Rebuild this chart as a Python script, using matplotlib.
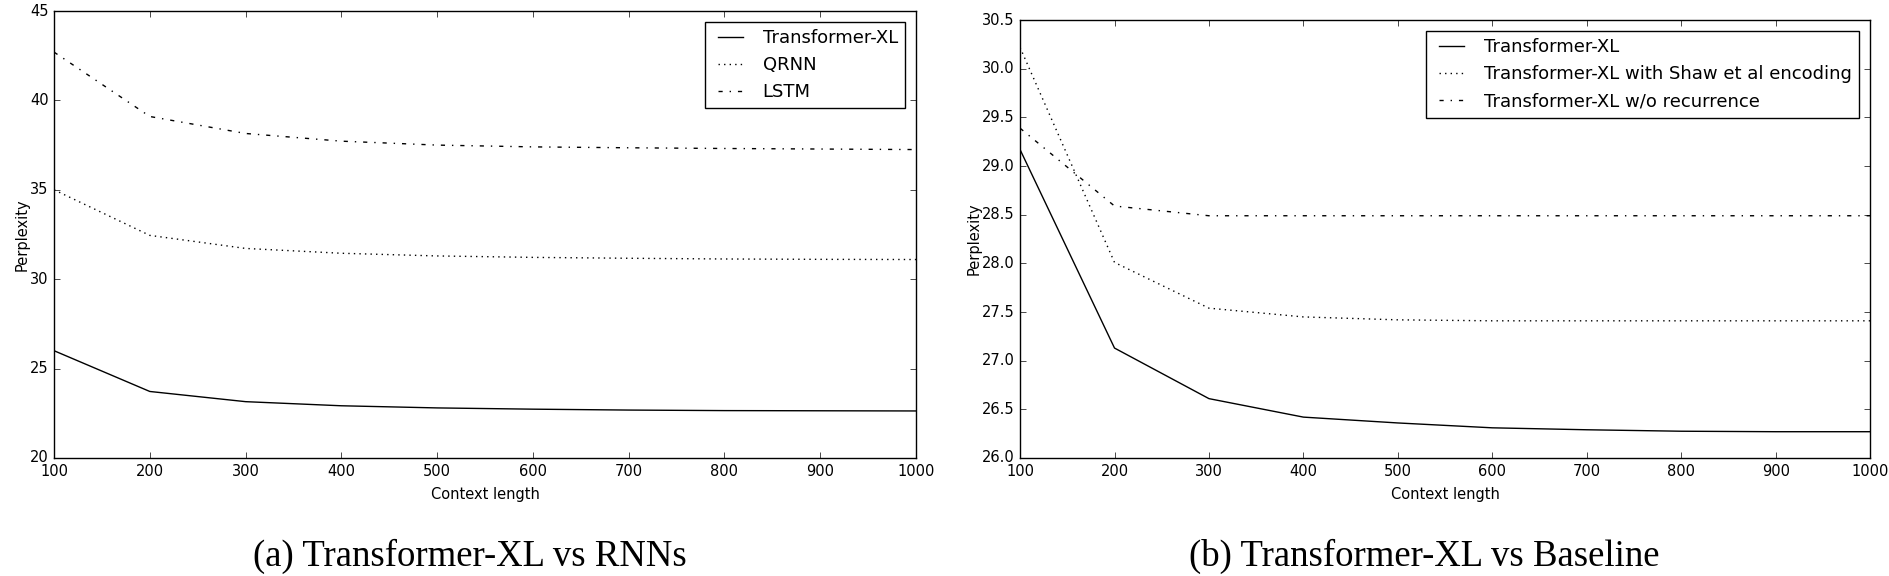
import matplotlib
matplotlib.use('Agg')
import matplotlib.pyplot as plt
from matplotlib.ticker import FormatStrFormatter

# context lengths shared by both panels
context = [100, 200, 300, 400, 500, 600, 700, 800, 900, 1000]

# (a) Transformer-XL vs RNNs
txl_a = [26.0, 23.72, 23.15, 22.92, 22.8, 22.73, 22.68, 22.65, 22.64, 22.63]
qrnn = [35.0, 32.45, 31.72, 31.45, 31.3, 31.22, 31.17, 31.13, 31.11, 31.1]
lstm = [42.7, 39.1, 38.15, 37.72, 37.5, 37.4, 37.35, 37.31, 37.28, 37.25]

# (b) Transformer-XL vs Baseline
txl_b = [29.17, 27.13, 26.61, 26.42, 26.36, 26.31, 26.29, 26.275, 26.27, 26.27]
shaw = [30.22, 28.01, 27.54, 27.45, 27.42, 27.41, 27.41, 27.41, 27.41, 27.41]
norec = [29.39, 28.59, 28.49, 28.49, 28.49, 28.49, 28.49, 28.49, 28.49, 28.49]

plt.style.use('classic')
plt.rcParams['font.family'] = ['DejaVu Sans']
plt.rcParams['figure.facecolor'] = 'white'
plt.rcParams['savefig.facecolor'] = 'white'
plt.rcParams['xtick.labelsize'] = 10.5
plt.rcParams['ytick.labelsize'] = 10.5
plt.rcParams['axes.labelsize'] = 10.5

fig = plt.figure(figsize=(18.89, 5.76), dpi=100)

# 左图
ax1 = fig.add_axes([0.0286, 0.2049, 0.4563, 0.776])
ax1.plot(context, txl_a, color='k', linestyle='-', label='Transformer-XL')
ax1.plot(context, qrnn, color='k', linestyle=':', label='QRNN')
ax1.plot(context, lstm, color='k', linestyle='-.', label='LSTM')
ax1.set_xlim(100, 1000)
ax1.set_ylim(20, 45)
ax1.set_xticks(range(100, 1001, 100))
ax1.set_yticks(range(20, 46, 5))
ax1.set_xlabel('Context length', labelpad=6)
ax1.set_ylabel('Perplexity', labelpad=0)
ax1.legend(loc='upper right', fontsize=13, borderaxespad=0.6)

# 右图
ax2 = fig.add_axes([0.540, 0.2049, 0.450, 0.760])
ax2.plot(context, txl_b, color='k', linestyle='-', label='Transformer-XL')
ax2.plot(context, shaw, color='k', linestyle=':', label='Transformer-XL with Shaw et al encoding')
ax2.plot(context, norec, color='k', linestyle='-.', label='Transformer-XL w/o recurrence')
ax2.set_xlim(100, 1000)
ax2.set_ylim(26.0, 30.5)
ax2.set_xticks(range(100, 1001, 100))
ax2.set_yticks([26.0 + 0.5 * i for i in range(10)])
ax2.yaxis.set_major_formatter(FormatStrFormatter('%.1f'))
ax2.set_xlabel('Context length', labelpad=6)
ax2.set_ylabel('Perplexity', labelpad=0)
ax2.legend(loc='upper right', fontsize=13, borderaxespad=0.6)

# 子图标题
fig.text(470 / 1889, 0.034, '(a) Transformer-XL vs RNNs', ha='center', va='center',
         family='Liberation Serif', fontsize=26.5)
fig.text(1424 / 1889, 0.034, '(b) Transformer-XL vs Baseline', ha='center', va='center',
         family='Liberation Serif', fontsize=26.5)

fig.savefig('out.png', dpi=100)
